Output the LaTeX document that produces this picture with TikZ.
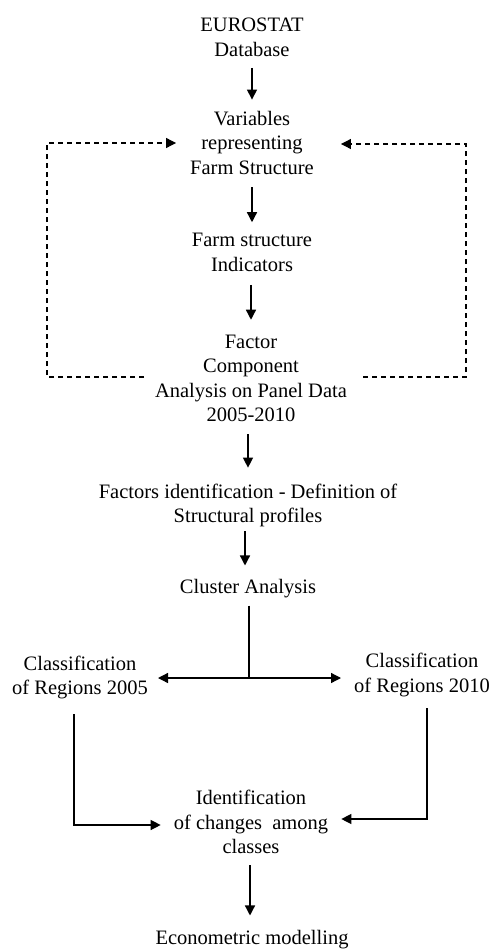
\documentclass[tikz,border=0pt]{standalone}
\usepackage{fontspec}
\setmainfont{Liberation Serif}
\usetikzlibrary{arrows.meta}
\begin{document}
\begin{tikzpicture}[x=1pt,y=-1pt,
  lbl/.style={align=center,inner sep=0pt,font=\fontsize{20.5}{24.5}\selectfont},
  arr/.style={line width=1.3pt,-{Triangle[length=10pt,width=10pt]}},
  dasharr/.style={line width=1.2pt,dash pattern=on 5pt off 4pt,-{Triangle[length=10pt,width=10pt]}},
  dashline/.style={line width=1.2pt,dash pattern=on 5pt off 4pt},
  plain/.style={line width=1.3pt}]
\useasboundingbox (0,0) rectangle (494,950);

% process steps
\node[lbl] (eur) at (252,37.5) {EUROSTAT\\Database};
\node[lbl] (var) at (252,142.5) {Variables\\representing\\Farm Structure};
\node[lbl] (fs)  at (252,252.5) {Farm structure\\Indicators};
\node[lbl] (fac) at (251,378.5) {Factor\\Component\\Analysis on Panel Data\\2005-2010};
\node[lbl] (fi)  at (248,505.5) {Factors identification - Definition of\\Structural profiles};
\node[lbl] (clu) at (248,589) {Cluster Analysis};
\node[lbl] (cl)  at (80,677.5) {Classification\\of Regions 2005};
\node[lbl] (cr)  at (422,675) {Classification\\of Regions 2010};
\node[lbl] (id)  at (251,822) {Identification\\of changes\ \ among\\classes};
\node[lbl] (eco) at (252,940) {Econometric modelling};

% main vertical flow
\draw[arr,shorten <=11pt,shorten >=11pt] (eur.south) -- (eur.south |- var.north);
\draw[arr,shorten <=13pt,shorten >=11pt] (var.south) -- (var.south |- fs.north);
\draw[arr,shorten <=13pt,shorten >=15pt] ([xshift=-1pt]fs.south) -- ([xshift=-1pt]fs.south |- fac.north);
\draw[arr,shorten <=12pt,shorten >=16pt] ([xshift=-3pt]fac.south) -- ([xshift=-3pt]fac.south |- fi.north);
\draw[arr,shorten <=4pt,shorten >=14pt] ([xshift=-3pt]fi.south) -- ([xshift=-3pt]fi.south |- clu.north);
\draw[arr,shorten <=11pt,shorten >=15pt] ([xshift=-1pt]id.south) -- ([xshift=-1pt]id.south |- eco.north);

% feedback loop around the factor analysis
\coordinate (loopL) at (144,377);
\coordinate (loopR) at (363,377);
\draw[dasharr] (loopL) -- (47,377) -- (47,143) -- ([xshift=-14pt,yshift=-0.5pt]var.west);
\draw[dasharr] (loopR) -- (466,377) -- (466,144) -- ([xshift=27pt,yshift=-1.5pt]var.east);

% split of the cluster analysis into the two classifications
\coordinate (junc) at (249,678);
\draw[plain] ([xshift=1pt,yshift=-7pt]clu.south) -- (junc);
\draw[arr] (junc) -- (158,678);
\draw[arr] (junc) -- (341,678);

% classifications merging into the change identification
\draw[arr] (74,714) -- (74,825) -- ([xshift=-13pt,yshift=-3pt]id.west);
\draw[arr] (427,708) -- (427,819) -- ([xshift=13pt,yshift=3pt]id.east);
\end{tikzpicture}
\end{document}
